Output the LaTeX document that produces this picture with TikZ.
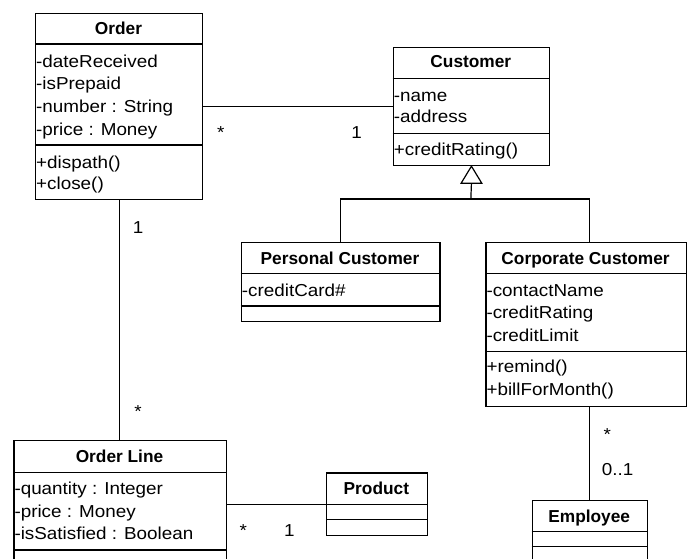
\documentclass[tikz,border=0pt]{standalone}
\usepackage{fontspec}
\newfontfamily\umlreg[FakeStretch=1.09]{Liberation Sans}
\newfontfamily\umltitle{Liberation Sans}
\begin{document}
\begin{tikzpicture}[x=1pt,y=-1pt,
  box/.style={draw, line width=1.2pt, inner sep=0pt, anchor=north west},
  sep/.style={line width=1.2pt},
  link/.style={line width=1.2pt},
  ttl/.style={font={\umltitle\bfseries\fontsize{17.3}{22.3}\selectfont}, inner sep=0pt, text height=12.4pt, text depth=0pt, anchor=center},
  attr/.style={font={\umlreg\fontsize{17.3}{22.3}\selectfont}, inner sep=0pt, anchor=base west},
  mult/.style={font={\umlreg\fontsize{17.3}{22.3}\selectfont}, inner sep=0pt, anchor=base}]
\clip (0,0) rectangle (689,559);
\fill[white] (0,0) rectangle (689,559);

% Order
\node[box, minimum width=167pt, minimum height=186pt] (order) at (35,13) {};
\draw[sep] ([yshift=-31pt]order.north west) -- ([yshift=-31pt]order.north east);
\draw[sep] ([yshift=-132pt]order.north west) -- ([yshift=-132pt]order.north east);
\node[ttl] (order-t) at (118.5,28) {Order};
\foreach \t [count=\i] in {-dateReceived,-isPrepaid,-number : String,-price : Money}
  \node[attr] (order-a\i) at (36,67.2+22.7*\i-22.7) {\t};
\foreach \t [count=\i] in {+dispath(),+close()}
  \node[attr] (order-m\i) at (36,168.2+21.3*\i-21.3) {\t};

% Customer
\node[box, minimum width=156.3pt, minimum height=118.3pt] (cust) at (392.7,46.7) {};
\draw[sep] ([yshift=-31.6pt]cust.north west) -- ([yshift=-31.6pt]cust.north east);
\draw[sep] ([yshift=-86.6pt]cust.north west) -- ([yshift=-86.6pt]cust.north east);
\node[ttl] (cust-t) at (470.85,61.7) {Customer};
\foreach \t [count=\i] in {-name,-address}
  \node[attr] (cust-a\i) at (393.7,101.2+21.7*\i-21.7) {\t};
\node[attr] (cust-m1) at (393.7,155.5) {+creditRating()};

% Personal Customer
\node[box, minimum width=198.6pt, minimum height=79pt] (pc) at (240.7,241.7) {};
\draw[sep] ([yshift=-31.6pt]pc.north west) -- ([yshift=-31.6pt]pc.north east);
\draw[sep] ([yshift=-64.3pt]pc.north west) -- ([yshift=-64.3pt]pc.north east);
\node[ttl] (pc-t) at (340,258.3) {Personal Customer};
\node[attr] (pc-a1) at (241.7,296.2) {-creditCard\#};

% Corporate Customer
\node[box, minimum width=200.7pt, minimum height=164.3pt] (cc) at (485.3,241.7) {};
\draw[sep] ([yshift=-31.6pt]cc.north west) -- ([yshift=-31.6pt]cc.north east);
\draw[sep] ([yshift=-110pt]cc.north west) -- ([yshift=-110pt]cc.north east);
\node[ttl] (cc-t) at (585.6,258.3) {Corporate Customer};
\foreach \t [count=\i] in {-contactName,-creditRating,-creditLimit}
  \node[attr] (cc-a\i) at (486.3,296.2+22.7*\i-22.7) {\t};
\foreach \t [count=\i] in {+remind(),+billForMonth()}
  \node[attr] (cc-m\i) at (486.3,372.9+22.6*\i-22.6) {\t};

% Order Line
\node[box, minimum width=212.4pt, minimum height=140pt] (ol) at (13.3,440) {};
\draw[sep] ([yshift=-32.3pt]ol.north west) -- ([yshift=-32.3pt]ol.north east);
\draw[sep] ([yshift=-110pt]ol.north west) -- ([yshift=-110pt]ol.north east);
\node[ttl] (ol-t) at (119.5,456) {Order Line};
\foreach \t [count=\i] in {-quantity : Integer,-price : Money,-isSatisfied : Boolean}
  \node[attr] (ol-a\i) at (14.3,494.5+22.5*\i-22.5) {\t};

% Product
\node[box, minimum width=100.7pt, minimum height=62.7pt] (prod) at (326,472.3) {};
\draw[sep] ([yshift=-32pt]prod.north west) -- ([yshift=-32pt]prod.north east);
\draw[sep] ([yshift=-47pt]prod.north west) -- ([yshift=-47pt]prod.north east);
\node[ttl] (prod-t) at (376.35,488.3) {Product};

% Employee
\node[box, minimum width=115pt, minimum height=80pt] (emp) at (531.7,500) {};
\draw[sep] ([yshift=-31.7pt]emp.north west) -- ([yshift=-31.7pt]emp.north east);
\draw[sep] ([yshift=-46.7pt]emp.north west) -- ([yshift=-46.7pt]emp.north east);
\node[ttl] (emp-t) at (589.2,516) {Employee};

% Associations
\draw[link] (order.east) -- (order.east -| cust.west);
\node[mult] (m1) at (220.7,139) {*};
\node[mult] (m2) at (356.7,139) {1};

\draw[link] (order.south) -- (order.south |- ol.north);
\node[mult] (m3) at (138,234) {1};
\node[mult] (m4) at (138,417) {*};

\draw[link] (prod.west -| ol.east) -- (prod.west);
\node[mult] (m5) at (243.3,536.7) {*};
\node[mult] (m6) at (289.3,536.7) {1};

\coordinate (ccj) at (589.2,241.7);
\draw[link] (emp.north) -- (emp.north |- cc.south);
\node[mult] (m7) at (607.3,440) {*};
\node[mult] (m8) at (617.7,475.5) {0..1};

% Generalization
\coordinate (gbar) at (470.85,199);
\draw[link] (pc.north) |- (gbar) -| (ccj);
\draw[link] (gbar) -- ([yshift=-17pt]cust.south);
\draw[link, fill=white, line join=miter] (cust.south) -- ++(-10.3,17) -- ++(20.6,0) -- cycle;
\end{tikzpicture}
\end{document}
